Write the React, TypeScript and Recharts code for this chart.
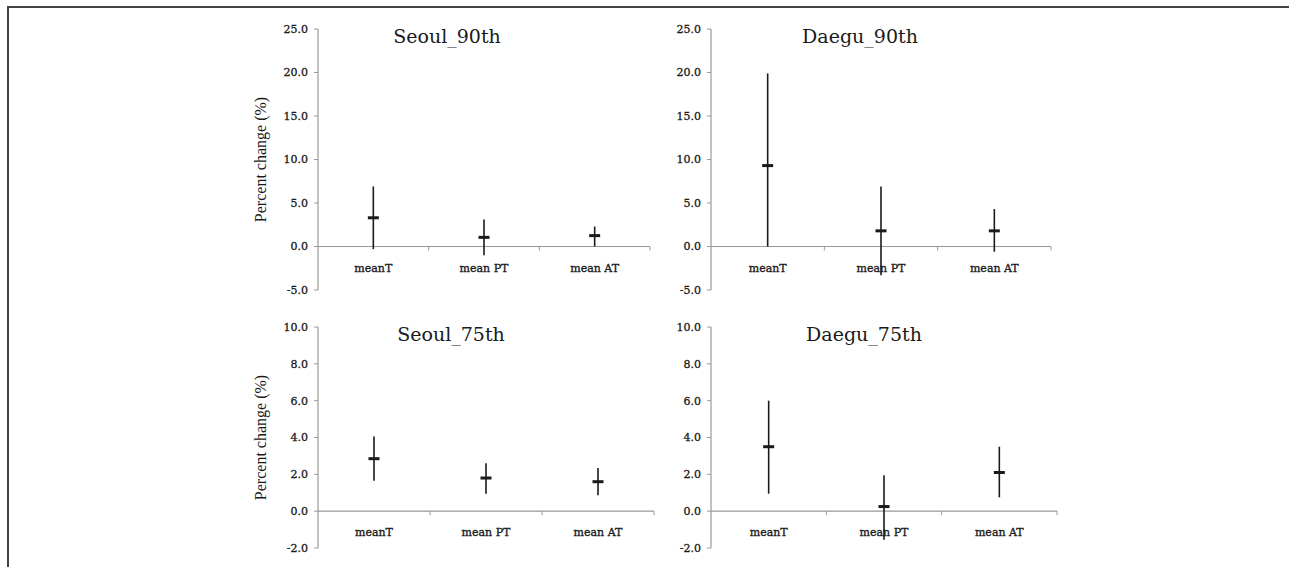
import React from "react"
import { ComposedChart, Line, ErrorBar, XAxis, YAxis, ReferenceLine } from "recharts"

// categories on the x axis
const categories = ["meanT", "mean PT", "mean AT"]

// Seoul, 90th percentile
const seoul90Mean = [3.3, 1.05, 1.25]
const seoul90Low = [-0.3, -1.0, 0.0]
const seoul90High = [6.9, 3.1, 2.3]

// Daegu, 90th percentile
const daegu90Mean = [9.3, 1.8, 1.8]
const daegu90Low = [0.0, -3.3, -0.6]
const daegu90High = [19.9, 6.9, 4.3]

// Seoul, 75th percentile
const seoul75Mean = [2.85, 1.8, 1.6]
const seoul75Low = [1.65, 0.95, 0.87]
const seoul75High = [4.05, 2.6, 2.35]

// Daegu, 75th percentile
const daegu75Mean = [3.5, 0.25, 2.1]
const daegu75Low = [0.95, -1.55, 0.75]
const daegu75High = [6.0, 1.95, 3.5]

// y axis ticks
const ticks90 = [-5, 0, 5, 10, 15, 20, 25]
const ticks75 = [-2, 0, 2, 4, 6, 8, 10]

const SERIF = "'DejaVu Serif', Georgia, serif"
const INK = "#1a1a1a"
const AXIS = "#999"
const Y_AXIS_W = 78

function buildRows(mean: number[], low: number[], high: number[]) {
  return categories.map((name, i) => ({
    name,
    mean: mean[i],
    err: [mean[i] - low[i], high[i] - mean[i]],
  }))
}

// x axis drawn through zero, with category names under it
function ZeroAxis(props: any) {
  const { x1, x2, y1 } = props
  if (x1 == null) return null
  const w = (x2 - x1) / categories.length
  return (
    <g>
      <line x1={x1} x2={x2} y1={y1} y2={y1} stroke={AXIS} strokeWidth={1.2} />
      {categories.map((c, i) => (
        <g key={c}>
          <line x1={x1 + (i + 1) * w} x2={x1 + (i + 1) * w} y1={y1} y2={y1 + 4} stroke={AXIS} />
          <text
            x={x1 + (i + 0.5) * w}
            y={y1 + 25}
            textAnchor="middle"
            fontFamily={SERIF}
            fontSize={11}
            fill={INK}
            stroke={INK}
            strokeWidth={0.35}
          >
            {c}
          </text>
        </g>
      ))}
    </g>
  )
}

const MeanMark = (p: any) =>
  p.cx == null ? null : (
    <rect key={p.index} x={p.cx - 5.5} y={p.cy - 1.5} width={11} height={3} fill={INK} />
  )

interface PanelProps {
  title: string
  titleX: number
  left: number
  top: number
  plotW: number
  plotH: number
  domain: [number, number]
  ticks: number[]
  mean: number[]
  low: number[]
  high: number[]
  yLabel?: boolean
}

function Panel(p: PanelProps) {
  const data = buildRows(p.mean, p.low, p.high)
  const width = Y_AXIS_W + p.plotW + 12
  const height = p.plotH + 20
  return (
    <>
      <div style={{ position: "absolute", left: p.left - Y_AXIS_W, top: p.top - 10 }}>
        <ComposedChart
          width={width}
          height={height}
          data={data}
          margin={{ top: 10, right: 12, bottom: 10, left: 0 }}
        >
          <XAxis dataKey="name" type="category" scale="band" hide />
          <YAxis
            type="number"
            domain={p.domain}
            ticks={p.ticks}
            interval={0}
            width={Y_AXIS_W}
            tickFormatter={(v: number) => v.toFixed(1)}
            tick={{ fontFamily: SERIF, fontSize: 11, fill: INK, stroke: INK, strokeWidth: 0.3 }}
            tickSize={4}
            tickMargin={6}
            stroke={AXIS}
            axisLine={{ stroke: AXIS, strokeWidth: 1.2 }}
            label={
              p.yLabel
                ? {
                    value: "Percent change (%)",
                    angle: -90,
                    position: "insideLeft",
                    offset: 20,
                    style: {
                      textAnchor: "middle",
                      fontFamily: "'Liberation Serif', 'Times New Roman', serif",
                      fontSize: 16,
                      fill: INK,
                    },
                  }
                : undefined
            }
          />
          <ReferenceLine y={0} shape={ZeroAxis} />
          <Line
            dataKey="mean"
            stroke="none"
            dot={MeanMark}
            activeDot={false}
            isAnimationActive={false}
          >
            <ErrorBar dataKey="err" direction="y" width={0} stroke={INK} strokeWidth={1.6} />
          </Line>
        </ComposedChart>
      </div>
      <div
        style={{
          position: "absolute",
          left: p.left + p.titleX,
          top: p.top - 4,
          transform: "translateX(-50%)",
          fontFamily: SERIF,
          fontSize: 19,
          lineHeight: "22px",
          color: INK,
          whiteSpace: "nowrap",
        }}
      >
        {p.title}
      </div>
    </>
  )
}

export default function App() {
  return (
    <div style={{ position: "absolute", left: 0, top: 0, width: 1289, height: 567, background: "#fff", overflow: "hidden" }}>
      <div
        style={{
          position: "absolute",
          left: 7,
          top: 6,
          width: 1289,
          height: 600,
          borderTop: "2px solid #444",
          borderLeft: "2px solid #444",
        }}
      />
      <Panel
        title="Seoul_90th"
        titleX={129}
        left={318}
        top={29}
        plotW={332}
        plotH={261}
        domain={[-5, 25]}
        ticks={ticks90}
        mean={seoul90Mean}
        low={seoul90Low}
        high={seoul90High}
        yLabel
      />
      <Panel
        title="Daegu_90th"
        titleX={149}
        left={711}
        top={29}
        plotW={340}
        plotH={261}
        domain={[-5, 25]}
        ticks={ticks90}
        mean={daegu90Mean}
        low={daegu90Low}
        high={daegu90High}
      />
      <Panel
        title="Seoul_75th"
        titleX={133}
        left={318}
        top={327}
        plotW={336}
        plotH={221}
        domain={[-2, 10]}
        ticks={ticks75}
        mean={seoul75Mean}
        low={seoul75Low}
        high={seoul75High}
        yLabel
      />
      <Panel
        title="Daegu_75th"
        titleX={153}
        left={711}
        top={327}
        plotW={346}
        plotH={221}
        domain={[-2, 10]}
        ticks={ticks75}
        mean={daegu75Mean}
        low={daegu75Low}
        high={daegu75High}
      />
    </div>
  )
}
